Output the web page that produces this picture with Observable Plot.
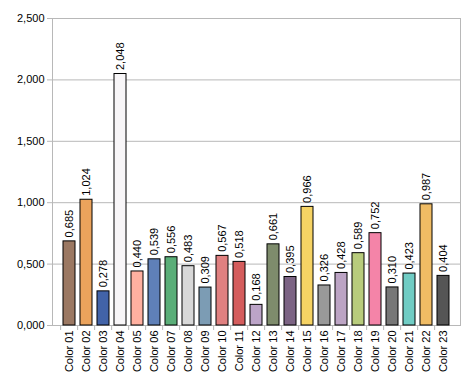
<!DOCTYPE html>
<html><head><meta charset="utf-8">
<script src="https://cdn.jsdelivr.net/npm/d3@7"></script>
<script src="https://cdn.jsdelivr.net/npm/@observablehq/plot@0.6"></script>
<style>body{margin:0;background:#fff}</style>
</head><body><div id="chart"></div>
<script>
const categories = ["Color 01","Color 02","Color 03","Color 04","Color 05","Color 06","Color 07","Color 08","Color 09","Color 10","Color 11","Color 12","Color 13","Color 14","Color 15","Color 16","Color 17","Color 18","Color 19","Color 20","Color 21","Color 22","Color 23"];
const values = [0.685,1.024,0.278,2.048,0.440,0.539,0.556,0.483,0.309,0.567,0.518,0.168,0.661,0.395,0.966,0.326,0.428,0.589,0.752,0.310,0.423,0.987,0.404];
const colors = ["#9b7862","#eba35c","#4263a8","#f8f6f8","#ffb0a0","#5f80b8","#5aae78","#d8d8d8","#7c9cb4","#e08080","#d45c5c","#bca4c8","#7e8c6c","#7c6484","#f6d364","#999999","#bca4c4","#b8cc7c","#f484a8","#777777","#70ccc4","#f0bc64","#555555"];
const yTicks = [0,0.5,1,1.5,2,2.5];
const data = categories.map((c,i)=>({category:c,value:values[i],color:colors[i]}));
const fmt = v => v.toFixed(3).replace(".", ",");
const step = (475-52-15)/categories.length;
const chart = Plot.plot({
  width:475, height:377, marginLeft:52, marginRight:15, marginTop:18, marginBottom:52,
  style:{fontFamily:"'Liberation Sans', Arial, sans-serif", fontSize:"11px", color:"#000", background:"#fff"},
  x:{domain:categories, paddingInner:0.32, paddingOuter:0.16},
  y:{domain:[0,2.5]},
  marks:[
    Plot.gridY(yTicks,{stroke:"#b8b8b8", strokeOpacity:1}),
    Plot.frame({stroke:"#b8b8b8"}),
    Plot.axisY(yTicks,{tickFormat:fmt, tickSize:5, stroke:"#b8b8b8", tickPadding:3, label:null}),
    Plot.axisX({tickSize:5, text:null, dx:-step/2, stroke:"#b8b8b8", label:null}),
    Plot.axisX({tickSize:0, tickRotate:-90, tickPadding:5, label:null}),
    Plot.barY(data,{x:"category", y:"value", fill:"color", stroke:"#000"}),
    Plot.text(data,{x:"category", y:"value", text:d=>fmt(d.value), rotate:-90, textAnchor:"start", dy:-4, fill:"#000"})
  ]
});
document.getElementById("chart").append(chart);
</script>
</body></html>
